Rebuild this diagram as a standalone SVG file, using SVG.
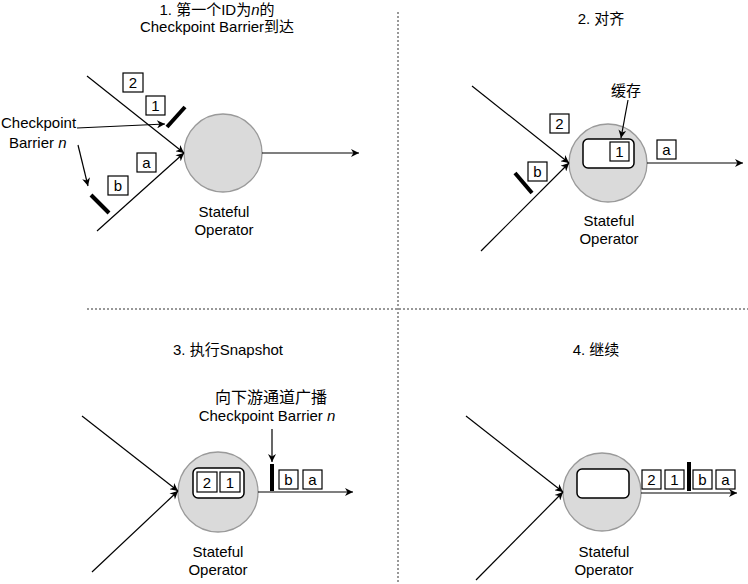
<svg xmlns="http://www.w3.org/2000/svg" width="748" height="584" viewBox="0 0 748 584">
<style>
text{font-family:"Liberation Sans","Noto Sans CJK SC",sans-serif;font-size:15px;fill:#000}
.c{text-anchor:middle}
.op{fill:#dadada;stroke:#9a9a9a;stroke-width:1.3}
.ln{stroke:#000;stroke-width:1.2;fill:none}
.ar{stroke:#000;stroke-width:1.2;fill:none;marker-end:url(#ah)}
.bar{stroke:#000;stroke-width:4;stroke-linecap:butt}
.box{fill:#fff;stroke:#000;stroke-width:1.2}
.buf{fill:#fff;stroke:#000;stroke-width:1.5}
.sep{stroke:#333;stroke-width:1;stroke-dasharray:2,2;fill:none}
.it{font-style:italic}
</style>
<defs>
<marker id="ah" viewBox="0 0 10 10" refX="10" refY="5" markerWidth="10" markerHeight="8" markerUnits="userSpaceOnUse" orient="auto">
<path d="M0,0 L10,5 L0,10 L3,5 z" fill="#000"/>
</marker>
</defs>

<g id="separators">
<line class="sep" x1="398" y1="12" x2="398" y2="584"/>
<line class="sep" x1="87" y1="309" x2="748" y2="309"/>
</g>

<g id="panel1">
<text class="c" x="217" y="15">1. 第一个ID为<tspan class="it">n</tspan>的</text>
<text class="c" x="217" y="32">Checkpoint Barrier到达</text>
<g id="op1">
<circle class="op" cx="223" cy="153" r="39"/>
<text class="c" x="224" y="217">Stateful</text>
<text class="c" x="224" y="235">Operator</text>
</g>
<g id="p1-box2"><rect class="box" x="123" y="73" width="20" height="19"/><text class="c" x="133" y="88">2</text></g>
<g id="p1-box1"><rect class="box" x="146" y="96" width="19" height="19"/><text class="c" x="155.5" y="111">1</text></g>
<g id="p1-boxa"><rect class="box" x="137" y="153" width="19" height="19"/><text class="c" x="146.5" y="168">a</text></g>
<g id="p1-boxb"><rect class="box" x="108" y="176" width="20" height="19"/><text class="c" x="118" y="191">b</text></g>
<line class="bar" x1="167" y1="127" x2="185" y2="107"/>
<line class="bar" x1="91" y1="195" x2="109" y2="213"/>
<text x="1" y="128">Checkpoint</text>
<text x="9" y="148">Barrier <tspan class="it">n</tspan></text>
</g>

<g id="panel2">
<text class="c" x="601" y="24">2. 对齐</text>
<g id="op2">
<circle class="op" cx="608" cy="163" r="39"/>
<rect class="buf" x="583" y="139" width="51" height="29" rx="5"/>
<text class="c" x="609" y="226">Stateful</text>
<text class="c" x="609" y="244">Operator</text>
</g>
<g id="p2-box1"><rect class="box" x="610" y="142" width="19" height="19"/><text class="c" x="619.5" y="157">1</text></g>
<g id="p2-box2"><rect class="box" x="550" y="114" width="19" height="19"/><text class="c" x="559.5" y="129">2</text></g>
<g id="p2-boxb"><rect class="box" x="528" y="162" width="19" height="19"/><text class="c" x="537.5" y="177">b</text></g>
<g id="p2-boxa"><rect class="box" x="657" y="140" width="19" height="19"/><text class="c" x="666.5" y="155">a</text></g>
<line class="bar" x1="515" y1="173" x2="532" y2="193"/>
<text class="c" x="626" y="96">缓存</text>
</g>

<g id="panel3">
<text class="c" x="228" y="355">3. 执行Snapshot</text>
<g id="op3">
<circle class="op" cx="218" cy="492" r="40"/>
<rect class="buf" x="193" y="468" width="51" height="30" rx="5"/>
<text class="c" x="218" y="557">Stateful</text>
<text class="c" x="218" y="575">Operator</text>
</g>
<g id="p3-box2"><rect class="box" x="197" y="472" width="20" height="20"/><text class="c" x="207" y="488">2</text></g>
<g id="p3-box1"><rect class="box" x="220" y="472" width="20" height="20"/><text class="c" x="230" y="488">1</text></g>
<line class="bar" x1="272" y1="464" x2="272" y2="491"/>
<g id="p3-boxb"><rect class="box" x="279" y="470" width="19" height="19"/><text class="c" x="288.5" y="485">b</text></g>
<g id="p3-boxa"><rect class="box" x="303" y="470" width="19" height="19"/><text class="c" x="312.5" y="485">a</text></g>
<text class="c" x="271" y="403" style="font-size:16px">向下游通道广播</text>
<text class="c" x="267" y="421">Checkpoint Barrier <tspan class="it">n</tspan></text>
</g>

<g id="panel4">
<text class="c" x="596" y="355">4. 继续</text>
<g id="op4">
<circle class="op" cx="602" cy="492" r="39"/>
<rect class="buf" x="577" y="469" width="52" height="29" rx="5"/>
<text class="c" x="604" y="557">Stateful</text>
<text class="c" x="604" y="575">Operator</text>
</g>
<g id="p4-box2"><rect class="box" x="642" y="470" width="19" height="19"/><text class="c" x="651.5" y="485">2</text></g>
<g id="p4-box1"><rect class="box" x="665" y="470" width="19" height="19"/><text class="c" x="674.5" y="485">1</text></g>
<line class="bar" x1="689" y1="462" x2="689" y2="491"/>
<g id="p4-boxb"><rect class="box" x="693" y="470" width="19" height="19"/><text class="c" x="702.5" y="485">b</text></g>
<g id="p4-boxa"><rect class="box" x="716" y="470" width="19" height="19"/><text class="c" x="725.5" y="485">a</text></g>
</g>

<g id="connectors">
<line class="ar" x1="87" y1="76" x2="184" y2="153"/>
<line class="ar" x1="97" y1="231" x2="184" y2="153"/>
<line class="ar" x1="262" y1="153" x2="359" y2="153"/>
<line class="ar" x1="77" y1="128" x2="165" y2="124"/>
<line class="ar" x1="78" y1="145" x2="88" y2="186"/>
<line class="ar" x1="472" y1="86" x2="569" y2="163"/>
<line class="ar" x1="481" y1="251" x2="569" y2="163"/>
<line class="ar" x1="647" y1="163" x2="743" y2="163"/>
<line class="ar" x1="628" y1="100" x2="621" y2="138"/>
<line class="ar" x1="82" y1="416" x2="178" y2="491"/>
<line class="ar" x1="92" y1="572" x2="178" y2="491"/>
<line class="ar" x1="258" y1="492" x2="353" y2="492"/>
<line class="ar" x1="272" y1="429" x2="272" y2="462"/>
<line class="ar" x1="466" y1="416" x2="563" y2="492"/>
<line class="ar" x1="476" y1="580" x2="563" y2="492"/>
<line class="ar" x1="641" y1="493" x2="737" y2="493"/>
</g>
</svg>
